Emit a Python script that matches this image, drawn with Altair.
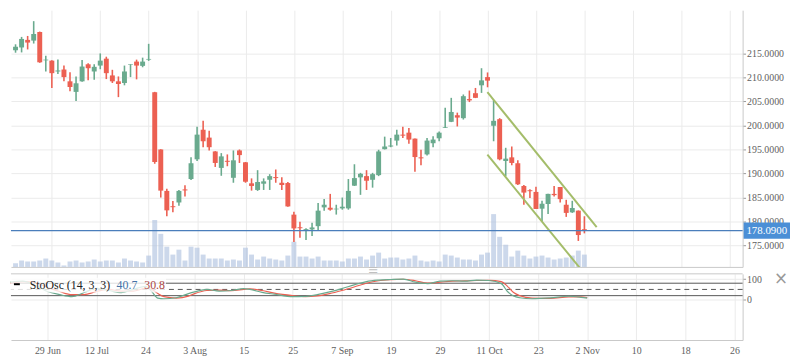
import altair as alt
import pandas as pd

# ---------------- data ----------------
opens = [215.66, 216.24, 217.82, 217.67, 219.46, 213.56, 213.50, 211.24, 211.65, 209.19,
         206.99, 209.19, 212.74, 211.24, 212.47, 213.91, 210.42, 209.19, 208.84, 212.62,
         213.30, 212.41, 213.71, 206.92, 195.00, 186.37, 183.18, 183.96, 186.68, 188.84,
         192.95, 199.11, 197.47, 194.59, 191.16, 192.64, 189.10, 194.80, 192.33, 187.95,
         186.57, 187.87, 188.69, 189.25, 188.07, 188.01, 181.43, 178.80, 178.20, 178.35,
         179.03, 182.94, 182.87, 182.53, 182.73, 182.73, 187.46, 189.19, 189.45, 188.69,
         189.66, 195.06, 195.62, 196.85, 198.09, 198.50, 197.26, 193.36, 193.97, 196.30,
         197.33, 199.52, 200.76, 202.13, 201.52, 205.49, 206.72, 208.36, 210.07, 199.94,
         201.31, 192.60, 193.36, 192.13, 187.40, 186.51, 186.16, 182.67, 183.64, 185.75,
         187.19, 183.49, 181.91, 182.26, 178.39]
highs = [216.90, 218.44, 218.64, 221.72, 219.55, 214.53, 213.60, 213.71, 212.47, 211.10,
         210.21, 213.65, 212.95, 212.74, 215.00, 214.32, 211.59, 210.21, 212.47, 212.74,
         213.71, 214.12, 217.00, 207.00, 195.05, 186.84, 184.25, 186.58, 187.54, 193.36,
         199.73, 200.96, 198.91, 194.65, 194.24, 193.97, 194.80, 195.00, 192.40, 188.98,
         190.69, 188.98, 189.86, 190.83, 189.19, 188.22, 182.05, 179.93, 178.62, 179.73,
         183.84, 184.66, 185.75, 183.49, 184.99, 188.84, 191.92, 190.13, 190.69, 190.13,
         194.94, 197.67, 197.40, 199.11, 199.73, 199.46, 197.30, 194.94, 197.40, 197.74,
         198.76, 203.70, 205.75, 202.67, 206.45, 207.27, 207.81, 211.92, 211.04, 205.28,
         201.52, 195.35, 195.62, 192.74, 187.60, 186.72, 187.25, 184.31, 185.80, 187.40,
         187.20, 184.52, 184.31, 182.30, 181.09]
lows = [215.15, 215.21, 215.83, 217.06, 213.05, 211.24, 207.81, 210.69, 209.19, 207.13,
        205.07, 209.10, 209.39, 209.53, 211.71, 209.66, 208.84, 205.90, 208.36, 210.07,
        209.60, 212.12, 213.44, 192.02, 184.99, 181.09, 181.91, 183.29, 185.20, 188.63,
        192.60, 195.47, 194.80, 191.36, 189.52, 191.51, 188.07, 192.19, 188.07, 186.43,
        186.37, 186.57, 186.57, 188.07, 186.57, 183.08, 175.74, 176.64, 176.15, 176.98,
        178.00, 182.26, 182.26, 181.44, 182.46, 182.46, 187.40, 185.55, 186.57, 187.05,
        189.45, 195.00, 195.47, 195.82, 197.41, 196.17, 190.34, 191.71, 193.77, 195.47,
        196.71, 199.46, 200.70, 199.79, 201.23, 204.87, 205.70, 206.78, 207.95, 196.71,
        192.74, 189.45, 191.71, 187.60, 183.49, 184.87, 182.60, 180.06, 181.58, 185.20,
        183.96, 180.96, 181.79, 175.95, 177.53]
closes = [216.38, 218.02, 217.26, 219.05, 213.15, 213.71, 210.89, 211.45, 210.07, 208.01,
          208.78, 212.27, 211.92, 212.21, 213.50, 210.89, 209.19, 208.63, 211.24, 212.74,
          212.47, 213.30, 213.85, 192.39, 186.43, 182.32, 182.98, 186.37, 186.47, 192.13,
          198.09, 196.71, 195.47, 192.19, 193.56, 192.43, 192.74, 193.83, 188.28, 187.40,
          188.22, 188.36, 189.45, 189.04, 187.60, 183.14, 178.56, 178.60, 178.41, 178.76,
          182.26, 183.49, 182.46, 182.67, 183.08, 186.37, 189.04, 189.93, 188.49, 189.86,
          194.59, 195.62, 195.82, 198.09, 197.88, 197.06, 193.42, 193.15, 196.85, 197.06,
          198.50, 199.67, 202.81, 201.64, 206.10, 205.22, 205.75, 209.39, 209.33, 200.96,
          192.95, 193.09, 192.19, 187.75, 186.02, 186.31, 182.61, 183.70, 185.75, 185.49,
          184.66, 181.79, 182.81, 177.18, 178.09]
volumes = [3.8, 6.5, 5.5, 5.5, 6.5, 8.5, 6.5, 4.5, 1.5, 5.5, 6.5, 4.5, 5.5, 7.5, 5.5, 6.5,
           6.5, 4.5, 8.5, 6.5, 5.5, 4.5, 11.5, 47.5, 33.5, 20.5, 12.5, 17.5, 6.5, 20.5,
           19.5, 12.5, 8.5, 8.5, 8.5, 6.5, 7.5, 6.5, 19.5, 12.5, 7.5, 10.5, 8.5, 7.5, 6.5,
           11.5, 25.5, 10.5, 10.5, 8.5, 10.5, 6.5, 6.5, 6.5, 5.5, 8.5, 8.5, 10.5, 7.5, 11.5,
           14.5, 8.5, 9.5, 9.5, 7.5, 8.5, 11.5, 6.5, 5.5, 6.5, 5.5, 12.5, 11.5, 9.5, 7.5,
           7.5, 6.5, 12.5, 14.5, 53.5, 30.5, 22.5, 10.5, 16.5, 11.5, 8.5, 10.5, 11.5, 9.5,
           7.5, 8.5, 9.5, 11.5, 16.5, 12.5]

tick_idx = [6, 14, 22, 30, 38, 46, 54, 62, 70, 78, 86, 94, 102, 110, 118]
tick_lbl = ["29 Jun", "12 Jul", "24", "3 Aug", "15", "25", "7 Sep", "19", "29",
            "11 Oct", "23", "2 Nov", "10", "18", "26"]

stoch_i = [0, 2, 4, 6, 8, 10, 12, 14, 16, 18, 20, 22, 23, 24, 25, 27, 29, 30, 32, 34, 36,
           38, 39, 41, 43, 46, 48, 50, 52, 54, 56, 58, 60, 62, 64, 66, 68, 70, 72, 74, 76,
           78, 80, 81, 82, 83, 85, 88, 91, 93, 94]
stoch_k = [85, 90, 70, 40, 25, 15, 35, 55, 45, 35, 50, 65, 40, 8, 5, 10, 30, 38, 50, 42, 45,
           54, 50, 36, 27, 15, 16, 25, 38, 54, 72, 88, 95, 98, 100, 85, 78, 90, 92, 90, 95,
           93, 78, 40, 18, 10, 5, 9, 17, 12, 8]
stoch_d = [80, 88, 82, 60, 40, 25, 25, 40, 50, 42, 42, 55, 50, 30, 15, 8, 18, 30, 45, 47, 44,
           50, 53, 45, 32, 20, 15, 19, 30, 45, 62, 80, 92, 97, 99, 92, 80, 85, 90, 91, 93,
           94, 88, 65, 35, 20, 8, 7, 14, 14, 11]

last_price = 178.09
channel_i = [77.97, 96.03, 77.97, 96.03]
channel_p = [206.92, 178.83, 193.91, 166.04]
channel_id = ["upper", "upper", "lower", "lower"]
osc_levels = [80, 20]
osc_mid = [50]

# ---------------- tables ----------------
ohlc = pd.DataFrame({"i": list(range(len(opens))), "open": opens, "high": highs,
                     "low": lows, "close": closes, "vol": volumes})
ohlc["dir"] = ["up" if c >= o else "down" for o, c in zip(opens, closes)]
stoch = pd.concat([
    pd.DataFrame({"i": stoch_i, "v": stoch_d, "s": "D"}),
    pd.DataFrame({"i": stoch_i, "v": stoch_k, "s": "K"}),
])
chan = pd.DataFrame({"i": channel_i, "p": channel_p, "id": channel_id})
price_df = pd.DataFrame({"p": [last_price]})

# ---------------- styling ----------------
W, H1, H2 = 741, 260, 67
X_DOM = [0.06, 119.33]
FONT = "Liberation Serif"
GREEN, RED = "#6aaa8e", "#ec6052"
GRID = "#ebebeb"
FRAME = "#c8c8c8"

label_expr = " : ".join(f"datum.value == {v} ? '{t}'" for v, t in zip(tick_idx, tick_lbl)) + " : ''"
xscale = alt.Scale(domain=X_DOM, nice=False, zero=False)

x_top = alt.X("i:Q", scale=xscale, axis=alt.Axis(values=tick_idx, labels=False, ticks=False,
              domain=True, domainColor=FRAME, grid=True, gridColor=GRID, title=None))
x_bot = alt.X("i:Q", scale=xscale, axis=alt.Axis(values=tick_idx, labelExpr=label_expr,
              ticks=False, labelPadding=6, domain=True, domainColor=FRAME, grid=True,
              gridColor=GRID, title=None, labelFont=FONT, labelFontSize=10,
              labelColor="#606060"))

yscale = alt.Scale(domain=[170.54, 224.0], nice=False, zero=False)
yaxis = alt.Axis(orient="right", values=list(range(175, 216, 5)), format=".4f", grid=True,
                 gridColor=GRID, domainColor=FRAME, tickColor="#999", tickSize=3,
                 labelPadding=1, title=None, labelFont=FONT, labelFontSize=10,
                 labelColor="#606060")
color = alt.Color("dir:N", scale=alt.Scale(domain=["up", "down"], range=[GREEN, RED]), legend=None)

base = alt.Chart(ohlc)
vol = base.mark_bar(size=5, color="#aabede", opacity=0.6).encode(
    x=x_top, y=alt.Y("vol:Q", scale=alt.Scale(domain=[0, H1], nice=False), axis=None))
wick = base.mark_rule(strokeWidth=1.6).encode(
    x=x_top, y=alt.Y("low:Q", scale=yscale, axis=yaxis), y2="high:Q", color=color)
body = base.mark_bar(size=5).encode(
    x=x_top, y=alt.Y("open:Q", scale=yscale, axis=yaxis), y2="close:Q", color=color)
channel = alt.Chart(chan).mark_line(color="#a4bd6a", strokeWidth=2, clip=True).encode(
    x=x_top, y=alt.Y("p:Q", scale=yscale, axis=yaxis), detail="id:N")
prule = alt.Chart(price_df).mark_rule(color="#4a7ebb", strokeWidth=1.3).encode(
    y=alt.Y("p:Q", scale=yscale, axis=yaxis))
ptag = alt.Chart(price_df).transform_calculate(lo="datum.p - 1.7", hi="datum.p + 1.7").mark_rect(
    color="#4b8fd6").encode(x=alt.value(W + 1), x2=alt.value(W + 48),
                            y=alt.Y("lo:Q", scale=yscale, axis=yaxis), y2="hi:Q")
ptext = alt.Chart(price_df).transform_calculate(t="format(datum.p, '.4f')").mark_text(
    color="white", font=FONT, fontSize=11, align="center", baseline="middle").encode(
    x=alt.value(W + 24.5), y=alt.Y("p:Q", scale=yscale, axis=yaxis), text="t:N")
handle = alt.Chart(price_df).mark_text(text="≡", color="#c0c0c0", fontSize=13, font="DejaVu Sans",
                                       baseline="middle").encode(x=alt.value(367), y=alt.value(H1 + 3))

price_layers = alt.layer(wick, body, channel, prule, ptag, ptext, handle)
main = alt.layer(vol, price_layers).resolve_scale(y="independent").properties(width=W, height=H1)

# ---------------- oscillator ----------------
oscale = alt.Scale(domain=[-193.8, 125.2], nice=False, zero=False)
oaxis = alt.Axis(orient="right", values=[0, 100], grid=True, gridColor=GRID, domainColor=FRAME,
                 tickColor="#999", tickSize=3, labelPadding=1, title=None, labelFont=FONT,
                 labelFontSize=10, labelColor="#606060")
lv = pd.DataFrame({"v": osc_levels})
mid = pd.DataFrame({"v": osc_mid})

lvl = alt.Chart(lv).mark_rule(color="#555", strokeWidth=1).encode(
    y=alt.Y("v:Q", scale=oscale, axis=oaxis))
mid_r = alt.Chart(mid).mark_rule(color="#555", strokeWidth=1, strokeDash=[5, 4]).encode(
    y=alt.Y("v:Q", scale=oscale, axis=oaxis))
lines = alt.Chart(stoch).mark_line(strokeWidth=1.2, interpolate="monotone").encode(
    x=x_bot, y=alt.Y("v:Q", scale=oscale, axis=oaxis),
    color=alt.Color("s:N", scale=alt.Scale(domain=["K", "D"], range=["#4a7ebb", "#c0504d"]),
                    legend=None))
one = pd.DataFrame({"a": [1]})
top_border = alt.Chart(one).mark_rule(color=FRAME, strokeWidth=1).encode(
    x=alt.value(0), x2=alt.value(W), y=alt.value(0))
lbox = alt.Chart(one).mark_rect(color="white", opacity=0.8).encode(
    x=alt.value(0), x2=alt.value(157), y=alt.value(4), y2=alt.value(19))
ldash = alt.Chart(one).mark_rule(color="black", strokeWidth=2).encode(
    x=alt.value(3), x2=alt.value(9), y=alt.value(10.5))
ltxt1 = alt.Chart(one).mark_text(text="StoOsc (14, 3, 3)", font=FONT, fontSize=12, color="#222",
                                 align="left", baseline="middle").encode(x=alt.value(19), y=alt.value(11))
ltxt2 = alt.Chart(one).mark_text(text="40.7", font=FONT, fontSize=12, color="#4572a7",
                                 align="left", baseline="middle").encode(x=alt.value(107), y=alt.value(11))
ltxt3 = alt.Chart(one).mark_text(text="30.8", font=FONT, fontSize=12, color="#aa4643",
                                 align="left", baseline="middle").encode(x=alt.value(135), y=alt.value(11))
close_x = alt.Chart(one).mark_text(text="×", font="DejaVu Sans", fontSize=17, color="#999",
                                   align="center", baseline="middle").encode(x=alt.value(780), y=alt.value(5))

osc = alt.layer(lvl, mid_r, lines, top_border, lbox, ldash, ltxt1, ltxt2, ltxt3, close_x).properties(
    width=W, height=H2)

chart = alt.vconcat(main, osc, spacing=7, bounds="flush").properties(padding=0).configure_view(stroke=None)

chart.save("out.html", embed_options={"renderer": "svg", "actions": False})
